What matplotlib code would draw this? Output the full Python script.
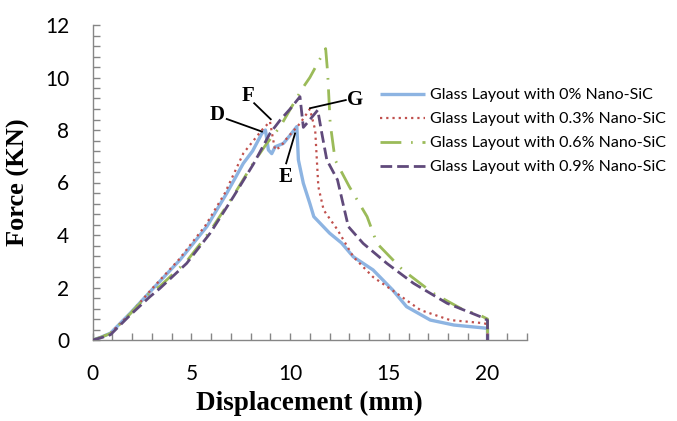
import matplotlib
matplotlib.use("Agg")
import matplotlib.pyplot as plt
from matplotlib.ticker import MultipleLocator

# ---- data ----
labels = ["Glass Layout with 0% Nano-SiC", "Glass Layout with 0.3% Nano-SiC",
          "Glass Layout with 0.6% Nano-SiC", "Glass Layout with 0.9% Nano-SiC"]

x_0 = [0, 0.4, 0.9, 1.9, 3.07, 4.42, 5.78, 6.79, 7.63, 8.1, 8.57, 8.75, 8.9, 9.07, 9.24, 9.66, 10.0, 10.34,
       10.42, 10.67, 11.0, 11.2, 12.0, 12.6, 13.2, 14.2, 15.2, 15.9, 17.1, 18.3, 19.8, 20.0, 20.0]
y_0 = [0, 0.1, 0.26, 1.02, 1.97, 3.05, 4.32, 5.59, 6.73, 7.2, 7.87, 8.0, 7.24, 7.1, 7.36, 7.49, 7.8, 8.13,
       6.86, 5.97, 5.2, 4.7, 4.07, 3.7, 3.17, 2.67, 1.9, 1.27, 0.76, 0.57, 0.46, 0.44, 0]

x_3 = [0, 0.4, 0.9, 1.9, 3.0, 4.35, 5.7, 6.7, 7.63, 8.57, 8.98, 9.1, 9.24, 9.5, 9.83, 10.5, 10.85, 11.0,
       11.27, 11.43, 11.7, 12.4, 13.2, 14.2, 15.4, 16.6, 18.1, 19.8, 20.0, 20.0]
y_3 = [0, 0.1, 0.26, 1.0, 1.95, 3.05, 4.35, 5.6, 7.11, 8.0, 8.32, 7.8, 7.24, 7.35, 7.68, 8.25, 8.63, 8.8,
       8.0, 5.84, 4.95, 4.2, 3.17, 2.4, 1.78, 1.14, 0.76, 0.64, 0.6, 0]

x_6 = [0, 0.4, 0.9, 1.9, 2.9, 3.41, 4.76, 5.95, 7.13, 8.14, 8.82, 9.5, 10.6, 11.0, 11.8, 11.9, 12.03,
       12.28, 13.0, 13.9, 14.4, 15.7, 17.25, 18.8, 19.6, 20.0, 20.0]
y_6 = [0, 0.1, 0.25, 1.0, 1.8, 2.05, 3.0, 4.15, 5.5, 6.75, 7.49, 8.13, 9.56, 10.0, 11.1, 10.2, 8.26,
       6.86, 5.84, 4.7, 3.68, 2.67, 1.78, 1.14, 0.95, 0.8, 0]

x_9 = [0, 0.4, 0.9, 1.9, 2.9, 3.41, 4.76, 5.95, 7.13, 8.14, 8.98, 9.5, 10.0, 10.5, 10.67, 10.9, 11.4,
       11.6, 11.86, 12.4, 12.95, 13.7, 14.9, 16.25, 17.95, 19.8, 20.0, 20.0]
y_9 = [0, 0.08, 0.2, 0.95, 1.65, 1.97, 2.92, 4.07, 5.46, 6.7, 7.87, 8.38, 8.8, 9.27, 8.1, 8.3, 8.76,
       7.9, 6.86, 6.1, 4.32, 3.68, 2.92, 2.16, 1.4, 0.84, 0.75, 0]

ann_text = ["D", "F", "G", "E"]
ann_text_xy = [(6.28, 8.57), (7.87, 9.3), (13.3, 9.14), (9.75, 6.22)]
ann_line_start = [(6.79, 8.42), (8.18, 9.02), (12.82, 9.14), (9.8, 6.73)]
ann_line_end = [(8.57, 7.94), (9.02, 8.41), (11.01, 8.83), (10.25, 7.87)]

# ---- figure ----
fig = plt.figure(figsize=(6.77, 4.21), dpi=100)
ax = fig.add_axes([92.7 / 677, 1 - 340 / 421, (527 - 92.7) / 677, (340 - 25) / 421])

l0, = ax.plot(x_0, y_0, color="#8DB4E2", lw=2.4, solid_capstyle="butt", zorder=2)
l3, = ax.plot(x_3, y_3, color="#C0504D", lw=1.6, linestyle=(0, (1, 1.8)), zorder=3)
l6, = ax.plot(x_6, y_6, color="#9BBB59", lw=2.0, linestyle=(0, (7.5, 3.5, 0.6, 3.5)), zorder=3)
l9, = ax.plot(x_9, y_9, color="#604A7B", lw=2.0, linestyle=(0, (4.2, 1.8)), zorder=4)

for t, txy, s, e in zip(ann_text, ann_text_xy, ann_line_start, ann_line_end):
    ax.plot([s[0], e[0]], [s[1], e[1]], color="black", lw=1.3, zorder=5)
    ax.text(txy[0], txy[1], t, family="Liberation Serif", weight="bold", fontsize=15,
            ha="center", va="center", zorder=6)

ax.set_xlim(0, 22)
ax.set_ylim(0, 12)
ax.xaxis.set_major_locator(MultipleLocator(5))
ax.xaxis.set_minor_locator(MultipleLocator(1))
ax.yaxis.set_major_locator(MultipleLocator(2))
ax.yaxis.set_minor_locator(MultipleLocator(0.4))
ax.set_xticks([0, 5, 10, 15, 20])
ax.set_xticklabels(["0", "5", "10", "15", "20"])

for sp in ["top", "right"]:
    ax.spines[sp].set_visible(False)
for sp in ["left", "bottom"]:
    ax.spines[sp].set_color("#868686")
    ax.spines[sp].set_linewidth(1.0)

ax.tick_params(which="both", direction="in", length=5, width=1.0, color="#868686")
ax.tick_params(axis="y", which="major", pad=17)
ax.tick_params(axis="x", which="major", pad=17)
for lab in ax.get_xticklabels() + ax.get_yticklabels():
    lab.set_family("Lato")
    lab.set_fontsize(15)

ax.set_xlabel("Displacement (mm)", family="Liberation Serif", weight="bold", fontsize=19.5, labelpad=5)
ax.set_ylabel("Force (KN)", family="Liberation Serif", weight="bold", fontsize=19, labelpad=11)

leg = fig.legend([l0, l3, l6, l9], labels, loc="upper left",
                 bbox_to_anchor=(380 / 677, 1 - 88 / 421), bbox_transform=fig.transFigure,
                 frameon=False, borderpad=0, borderaxespad=0, handlelength=2.8,
                 handletextpad=0.3, labelspacing=0.62, prop={"family": "Lato", "size": 11.5})

fig.savefig("out.png", dpi=100)
